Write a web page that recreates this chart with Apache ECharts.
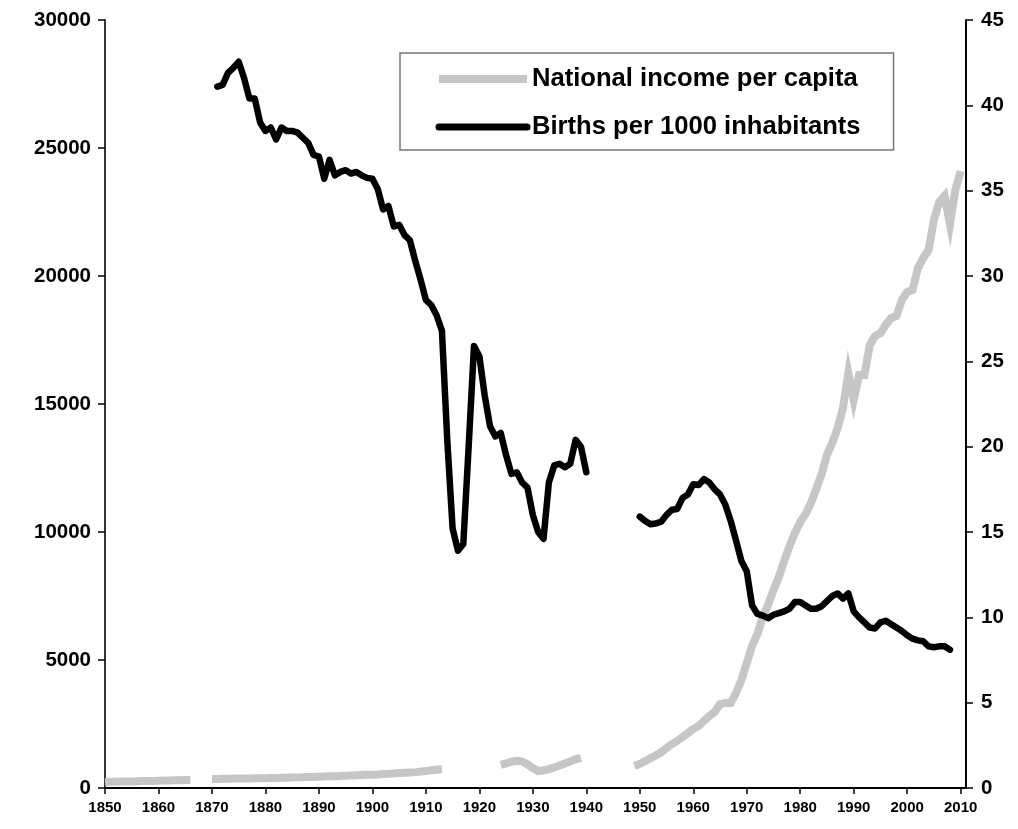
<!DOCTYPE html>
<html>
<head>
<meta charset="utf-8">
<script src="https://cdn.jsdelivr.net/npm/echarts@6/dist/echarts.min.js"></script>
<style>
html,body{margin:0;padding:0;background:#fff;}
#chart{width:1018px;height:829px;}
</style>
</head>
<body>
<div id="chart"></div>
<script>
// ---- Data ----
const xTicks = [1850,1860,1870,1880,1890,1900,1910,1920,1930,1940,1950,1960,1970,1980,1990,2000,2010];

// National income per capita (left axis), in segments with gaps
const incomeSeg1Start = 1850;
const incomeSeg1 = [222,240,245,250,250,255,265,270,270,275,285,290,295,300,305,310,312];
const incomeSeg2Start = 1870;
const incomeSeg2 = [351,355,360,365,368,370,372,375,378,382,385,390,395,400,405,410,415,418,425,430,440,448,455,462,470,480,490,500,508,515,520,530,545,555,570,590,600,610,620,640,660,690,715,740];
const incomeSeg3Start = 1924;
const incomeSeg3 = [900,960,1030,1060,1040,920,780,660,680,740,800,880,960,1040,1120,1180];
const incomeSeg4Start = 1949;
const incomeSeg4 = [860,940,1050,1170,1270,1400,1560,1720,1840,1990,2150,2300,2420,2620,2810,2970,3280,3320,3320,3710,4220,4880,5550,6020,6680,7150,7730,8240,8870,9450,9960,10390,10700,11130,11680,12260,13010,13480,14060,14840,16210,15160,16130,16130,17300,17660,17770,18090,18360,18440,19060,19370,19450,20310,20700,21020,22190,22890,23130,22030,23360,24100];

// Births per 1000 inhabitants (right axis)
const birthsSeg1Start = 1871;
const birthsSeg1 = [41.1,41.2,41.9,42.2,42.55,41.6,40.4,40.4,39.0,38.5,38.7,38.0,38.7,38.5,38.5,38.4,38.1,37.8,37.1,37.0,35.7,36.8,35.9,36.1,36.2,36.0,36.1,35.9,35.75,35.7,35.1,33.9,34.1,32.9,33.0,32.4,32.1,30.9,29.8,28.6,28.3,27.7,26.8,20.4,15.2,13.9,14.3,20.0,25.9,25.3,23.0,21.2,20.6,20.8,19.5,18.4,18.5,17.9,17.6,16.0,15.0,14.6,17.9,18.9,19.0,18.8,19.0,20.4,20.0,18.5];
const birthsSeg2Start = 1950;
const birthsSeg2 = [15.9,15.65,15.45,15.5,15.6,16.0,16.3,16.35,17.0,17.2,17.8,17.75,18.1,17.9,17.5,17.2,16.6,15.65,14.5,13.3,12.7,10.7,10.2,10.1,9.95,10.15,10.25,10.35,10.5,10.9,10.9,10.7,10.5,10.5,10.65,10.95,11.25,11.4,11.1,11.4,10.35,10.0,9.7,9.4,9.35,9.7,9.8,9.6,9.4,9.2,8.95,8.75,8.65,8.6,8.3,8.25,8.3,8.3,8.1];

const leftTicks = [0,5000,10000,15000,20000,25000,30000];
const rightTicks = [0,5,10,15,20,25,30,35,40,45];

function buildSeries(segs){
  const out = [];
  segs.forEach(([start, vals], i) => {
    if (i > 0) out.push([start - 0.5, '-']);
    vals.forEach((v, k) => out.push([start + k, v]));
  });
  return out;
}
const incomeData = buildSeries([[incomeSeg1Start,incomeSeg1],[incomeSeg2Start,incomeSeg2],[incomeSeg3Start,incomeSeg3],[incomeSeg4Start,incomeSeg4]]);
const birthsData = buildSeries([[birthsSeg1Start,birthsSeg1],[birthsSeg2Start,birthsSeg2]]);

const FONT = "'Liberation Sans', Arial, sans-serif";
const GREY = '#c6c6c6';
const plain = v => String(v);
const hiddenSymbol = {color:'rgba(0,0,0,0)', borderWidth:0, opacity:0};
const chart = echarts.init(document.getElementById('chart'), null, {renderer:'canvas'});
chart.setOption({
  animation:false,
  backgroundColor:'#ffffff',
  grid:{left:105, right:52, top:20, bottom:41, containLabel:false},
  legend:{
    left:400, top:53, orient:'vertical',
    padding:[13,33,10,35], itemGap:22,
    itemWidth:88, itemHeight:26,
    borderColor:'#777', borderWidth:1.5, backgroundColor:'#fff',
    textStyle:{fontFamily:FONT, fontWeight:'bold', fontSize:25.6, color:'#000'},
    data:[
      {name:'National income per capita', itemStyle:hiddenSymbol,
       lineStyle:{color:GREY, width:8, cap:'butt'}},
      {name:'Births per 1000 inhabitants', itemStyle:hiddenSymbol,
       lineStyle:{color:'#000', width:7, cap:'round'}}
    ]
  },
  xAxis:{
    type:'value', min:1850, max:2011,
    axisLine:{show:true, onZero:false, lineStyle:{color:'#000', width:2}},
    axisTick:{show:true, length:6, customValues:xTicks, lineStyle:{color:'#000', width:1.5}},
    axisLabel:{customValues:xTicks, formatter:plain, margin:12, fontFamily:FONT, fontWeight:'bold', fontSize:15, color:'#000'},
    splitLine:{show:false}
  },
  yAxis:[
    {type:'value', position:'left', min:0, max:30000, interval:5000,
     axisLine:{show:true, lineStyle:{color:'#333', width:2}},
     axisTick:{show:true, length:7, lineStyle:{color:'#000', width:1.5}},
     axisLabel:{formatter:plain, margin:14, fontFamily:FONT, fontWeight:'bold', fontSize:20.5, color:'#000'},
     splitLine:{show:false}},
    {type:'value', position:'right', min:0, max:45, interval:5,
     axisLine:{show:true, lineStyle:{color:'#000', width:2}},
     axisTick:{show:true, length:7, lineStyle:{color:'#000', width:1.5}},
     axisLabel:{formatter:plain, margin:15, fontFamily:FONT, fontWeight:'bold', fontSize:20.5, color:'#000'},
     splitLine:{show:false}}
  ],
  series:[
    {name:'National income per capita', type:'line', yAxisIndex:0, data:incomeData,
     symbol:'none', connectNulls:false,
     lineStyle:{color:GREY, width:8, cap:'butt', join:'miter'},
     itemStyle:{color:GREY}},
    {name:'Births per 1000 inhabitants', type:'line', yAxisIndex:1, data:birthsData,
     symbol:'none', connectNulls:false,
     lineStyle:{color:'#000', width:6.5, cap:'round', join:'round'},
     itemStyle:{color:'#000'}}
  ]
});
</script>
</body>
</html>
